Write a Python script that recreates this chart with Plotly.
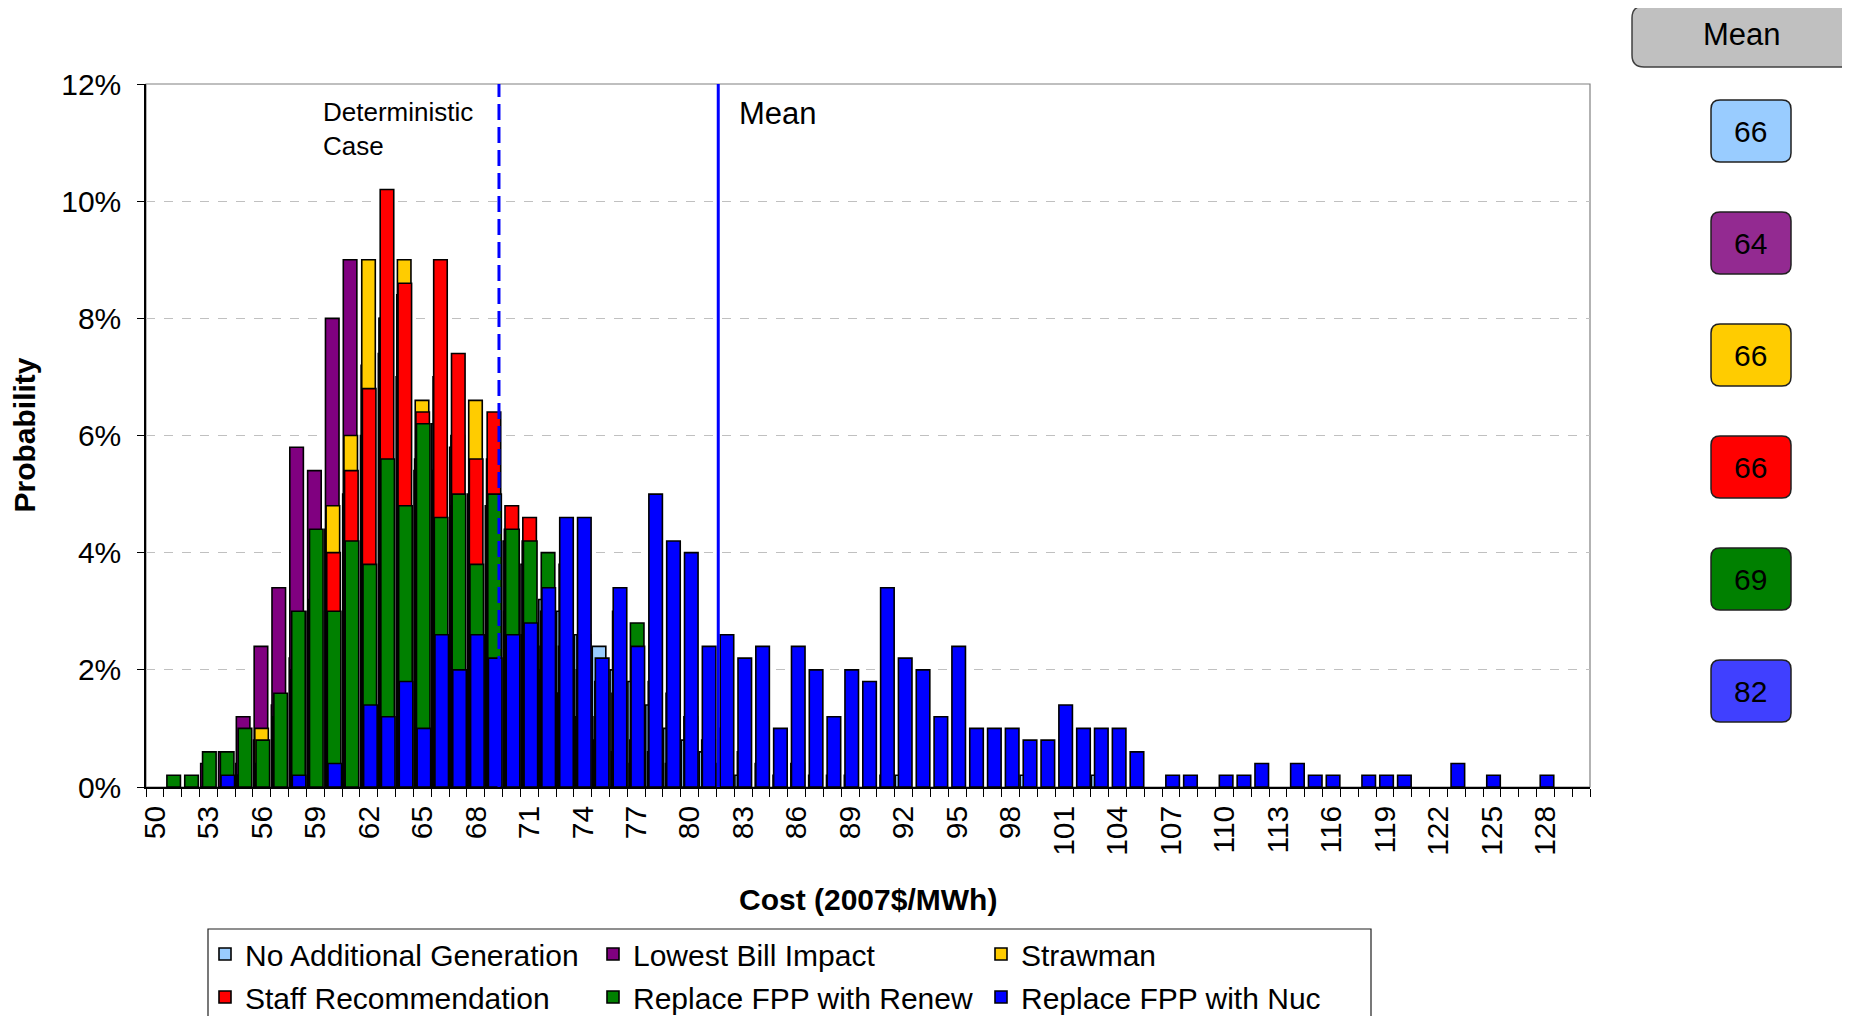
import plotly.graph_objects as go

# cost bins (2007$/MWh), one bar slot per dollar
costs = list(range(50, 131))

# probability (%) per cost bin, rows of ten bins: 50-59, 60-69, ...
no_additional = [0, 0, 0, 0, 0, 0.4, 0.8, 1.4, 2.2, 3.0,
                 4.4, 5.0, 6.0, 7.4, 7.0, 5.4, 6.2, 5.8, 5.0, 4.8,
                 4.2, 3.8, 3.2, 3.0, 2.6, 2.4, 2.0, 1.8, 1.4, 1.0,
                 0.8, 0.6, 0.4, 0.2, 0, 0, 0, 0, 0, 0,
                 0, 0, 0.2, 0, 0, 0, 0, 0, 0, 0.2,
                 0, 0, 0, 0.2, 0, 0, 0, 0, 0, 0,
                 0, 0, 0, 0, 0, 0, 0, 0, 0, 0,
                 0, 0, 0, 0, 0, 0, 0, 0, 0, 0,
                 0]
lowest_bill = [0, 0, 0, 0.4, 0.6, 1.2, 2.4, 3.4, 5.8, 5.4,
               8.0, 9.0, 7.2, 8.0, 8.4, 5.6, 5.4, 4.8, 4.4, 3.6,
               3.0, 2.6, 2.0, 1.6, 1.2, 0, 0, 0, 0, 0,
               0, 0, 0, 0, 0, 0, 0, 0, 0, 0,
               0, 0, 0, 0, 0, 0, 0, 0, 0, 0,
               0, 0, 0, 0, 0, 0, 0, 0, 0, 0,
               0, 0, 0, 0, 0, 0, 0, 0, 0, 0,
               0, 0, 0, 0, 0, 0, 0, 0, 0, 0,
               0]
strawman = [0, 0, 0, 0, 0, 0.2, 1.0, 1.2, 2.0, 3.2,
            4.8, 6.0, 9.0, 8.0, 9.0, 6.6, 7.0, 6.0, 6.6, 5.6,
            4.4, 4.2, 2.4, 1.6, 1.2, 0.8, 0.6, 0.4, 0, 0,
            0, 0, 0, 0, 0, 0, 0, 0, 0, 0,
            0, 0, 0, 0, 0, 0, 0, 0, 0, 0,
            0, 0, 0, 0, 0, 0, 0, 0, 0, 0,
            0, 0, 0, 0, 0, 0, 0, 0, 0, 0,
            0, 0, 0, 0, 0, 0, 0, 0, 0, 0,
            0]
staff_rec = [0, 0, 0, 0, 0, 0.2, 0.4, 1.2, 2.0, 3.0,
             4.0, 5.4, 6.8, 10.2, 8.6, 6.4, 9.0, 7.4, 5.6, 6.4,
             4.8, 4.6, 3.0, 2.4, 2.0, 1.2, 1.6, 0.8, 0.6, 0.4,
             0, 0, 0, 0, 0, 0, 0, 0, 0, 0,
             0, 0, 0, 0, 0, 0, 0, 0, 0, 0,
             0, 0, 0, 0, 0, 0, 0, 0, 0, 0,
             0, 0, 0, 0, 0, 0, 0, 0, 0, 0,
             0, 0, 0, 0, 0, 0, 0, 0, 0, 0,
             0]
fpp_renew = [0, 0.2, 0.2, 0.6, 0.6, 1.0, 0.8, 1.6, 3.0, 4.4,
             3.0, 4.2, 3.8, 5.6, 4.8, 6.2, 4.6, 5.0, 3.8, 5.0,
             4.4, 4.2, 4.0, 3.8, 2.6, 1.8, 3.0, 2.8, 1.8, 1.6,
             1.2, 0.8, 1.0, 0.6, 0.4, 0.2, 0.4, 0.2, 0.2, 0.2,
             0, 0.2, 0, 0, 0, 0, 0, 0, 0, 0,
             0, 0, 0, 0, 0, 0, 0, 0, 0, 0,
             0, 0, 0, 0, 0, 0, 0, 0, 0, 0,
             0, 0, 0, 0, 0, 0, 0, 0, 0, 0,
             0]
fpp_nuc = [0, 0, 0, 0, 0.2, 0, 0, 0, 0.2, 0,
           0.4, 0, 1.4, 1.2, 1.8, 1.0, 2.6, 2.0, 2.6, 2.2,
           2.6, 2.8, 3.4, 4.6, 4.6, 2.2, 3.4, 2.4, 5.0, 4.2,
           4.0, 2.4, 2.6, 2.2, 2.4, 1.0, 2.4, 2.0, 1.2, 2.0,
           1.8, 3.4, 2.2, 2.0, 1.2, 2.4, 1.0, 1.0, 1.0, 0.8,
           0.8, 1.4, 1.0, 1.0, 1.0, 0.6, 0, 0.2, 0.2, 0,
           0.2, 0.2, 0.4, 0, 0.4, 0.2, 0.2, 0, 0.2, 0.2,
           0.2, 0, 0, 0.4, 0, 0.2, 0, 0, 0.2, 0,
           0]

series_names = ['No Additional Generation', 'Lowest Bill Impact', 'Strawman',
                'Staff Recommendation', 'Replace FPP with Renew', 'Replace FPP with Nuc']
series_values = [no_additional, lowest_bill, strawman, staff_rec, fpp_renew, fpp_nuc]
bar_colors = ['#99CCFF', '#800080', '#FFCC00', '#FF0000', '#008000', '#0000FF']
box_colors = ['#99CCFF', '#932A91', '#FFCC00', '#FF0000', '#008000', '#4040FF']
mean_costs = [66, 64, 66, 66, 69, 82]

deterministic_x = 69.3
mean_x = 81.6

x_tickvals = list(range(50, 129, 3))
x_ticktext = [str(v) for v in x_tickvals]
y_tickvals = [0, 2, 4, 6, 8, 10, 12]
y_ticktext = [f'{v}%' for v in y_tickvals]

FONT = 'Liberation Sans, Arial, sans-serif'
PAGE = 8                          # default body margin of the html page
W, H = 1850 - 2 * PAGE, 1024 - 2 * PAGE
L, R, T, B = 146, 1590, 84, 787   # plot area, page pixels

def px_x(x):
    return (x - L) / (R - L)

def px_y(y):
    return (B - y) / (B - T)

def rounded_box(x0, y0, x1, y1, r=9):
    pts = [('M', x0 + r, y0), ('L', x1 - r, y0), ('Q', x1, y0, x1, y0 + r),
           ('L', x1, y1 - r), ('Q', x1, y1, x1 - r, y1), ('L', x0 + r, y1),
           ('Q', x0, y1, x0, y1 - r), ('L', x0, y0 + r), ('Q', x0, y0, x0 + r, y0)]
    path = ''
    for p in pts:
        cmd, coords = p[0], p[1:]
        xy = []
        for i in range(0, len(coords), 2):
            xy.append(f'{px_x(coords[i]):.5f},{px_y(coords[i + 1]):.5f}')
        path += cmd + ' '.join(xy) + ' '
    return path + 'Z'

fig = go.Figure()

bar_w = 0.76
step = 0.035
for i, (name, vals, col) in enumerate(zip(series_names, series_values, bar_colors)):
    fig.add_trace(go.Bar(
        x=costs, y=[v if v else None for v in vals], name=name,
        marker=dict(color=col, line=dict(color='black', width=1.6)),
        width=bar_w, offset=-(bar_w + 5 * step) / 2 + i * step,
        legend='legend' if i < 3 else 'legend2',
    ))

shapes = [
    dict(type='rect', xref='paper', yref='paper', x0=0, x1=1, y0=0, y1=1,
         line=dict(color='#808080', width=1.2), layer='below'),
    dict(type='line', xref='x', yref='y', x0=deterministic_x, x1=deterministic_x, y0=0, y1=12,
         line=dict(color='#0000FF', width=3, dash='16px,7px')),
    dict(type='line', xref='x', yref='y', x0=mean_x, x1=mean_x, y0=0, y1=12,
         line=dict(color='#0000FF', width=3)),
    dict(type='path', xref='paper', yref='paper', path=rounded_box(1632, 6, 1880, 67, 12),
         fillcolor='#C0C0C0', line=dict(color='#404040', width=1.5)),
    # legend frame
    dict(type='rect', xref='paper', yref='paper', x0=px_x(208), x1=px_x(1371),
         y0=px_y(1040), y1=px_y(929), line=dict(color='#202020', width=1.2)),
]

def label(text, x, y, size=30, xanchor='center', **kw):
    return dict(text=text, xref='paper', yref='paper', x=x, y=y, xanchor=xanchor,
                yanchor='middle', showarrow=False,
                font=dict(family=FONT, size=size, color='black'), **kw)

annotations = [
    label('Deterministic<br>Case', px_x(321), px_y(129), 26, 'left', align='left'),
    label('Mean', px_x(737), px_y(114), 31, 'left'),
    label('<b>Probability</b>', px_x(24), 0.5, 30, textangle=-90),
    label('<b>Cost (2007$/MWh)</b>', 0.5, px_y(899), 30),
    label('Mean', px_x(1742), px_y(34), 31),
]

for k, (m, col) in enumerate(zip(mean_costs, box_colors)):
    cy = 131 + k * 112
    shapes.append(dict(type='path', xref='paper', yref='paper',
                       path=rounded_box(1711, cy - 31, 1791, cy + 31, 9),
                       fillcolor=col, line=dict(color='#202020', width=1.5)))
    annotations.append(label(str(m), px_x(1750), px_y(cy), 30))

legend_style = dict(orientation='h', xanchor='left', yanchor='middle', borderwidth=0,
                    bgcolor='rgba(0,0,0,0)', entrywidth=343, entrywidthmode='pixels',
                    font=dict(family=FONT, size=30, color='black'), traceorder='normal')

fig.update_layout(
    width=W, height=H,
    barmode='overlay',
    plot_bgcolor='white', paper_bgcolor='white',
    font=dict(family=FONT, size=30, color='black'),
    margin=dict(l=L - PAGE, r=W - (R - PAGE), t=T - PAGE, b=H - (B - PAGE), autoexpand=False),
    showlegend=True,
    legend=dict(x=px_x(205), y=px_y(954), **legend_style),
    legend2=dict(x=px_x(205), y=px_y(997), **legend_style),
    xaxis=dict(range=[49.5, 130.5], tickmode='array', tickvals=x_tickvals, ticktext=x_ticktext,
               tickangle=-90, ticks='outside', ticklen=5, tickcolor='rgba(0,0,0,0)',
               minor=dict(tick0=49.5, dtick=1, ticks='outside', ticklen=8, tickcolor='black',
                          tickwidth=1, showgrid=False),
               showline=True, linecolor='black', linewidth=1.5, showgrid=False, zeroline=False,
               tickfont=dict(family=FONT, size=30)),
    yaxis=dict(range=[0, 12], tickmode='array', tickvals=y_tickvals, ticktext=y_ticktext,
               ticks='outside', ticklen=7, tickcolor='black', ticklabelstandoff=10,
               showline=True, linecolor='black',
               linewidth=1.5, showgrid=True, gridcolor='#C0C0C0', griddash='dash', gridwidth=1,
               zeroline=False, tickfont=dict(family=FONT, size=30)),
    shapes=shapes,
    annotations=annotations,
)

fig.write_html("out.html")
